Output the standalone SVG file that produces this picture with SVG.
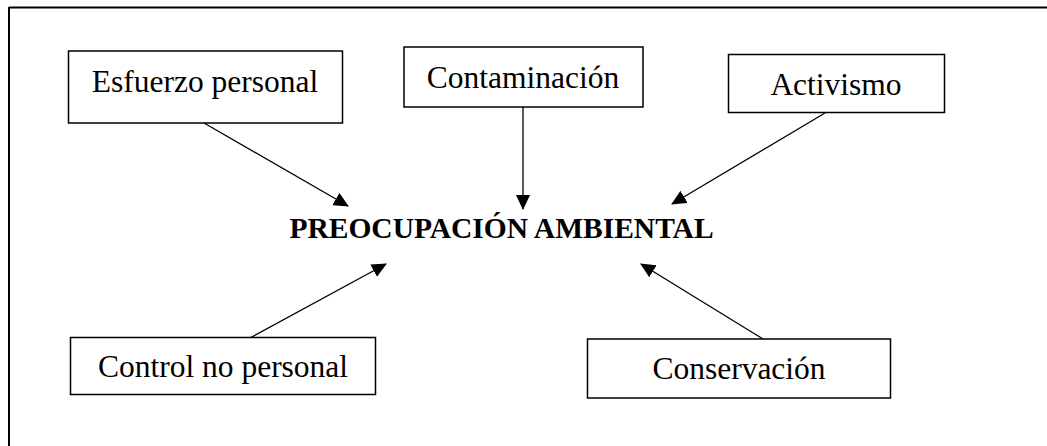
<svg xmlns="http://www.w3.org/2000/svg" width="1047" height="446" viewBox="0 0 1047 446">
<defs>
<marker id="ah" markerWidth="15" markerHeight="14" refX="14" refY="7" orient="auto" markerUnits="userSpaceOnUse">
<path d="M0,0 L15,7 L0,14 Z" fill="#000"/>
</marker>
<style>
.box{fill:#fff;stroke:#000;stroke-width:1.5}
.lbl{font-family:"Liberation Serif","Times New Roman",serif;font-size:31.5px;fill:#000;text-anchor:middle}
.ttl{font-family:"Liberation Serif","Times New Roman",serif;font-size:29.5px;font-weight:bold;fill:#000;text-anchor:middle}
.con{stroke:#000;stroke-width:1.3;fill:none;marker-end:url(#ah)}
</style>
</defs>
<rect width="1047" height="446" fill="#fff"/>
<g id="frame">
<line x1="9" y1="7.5" x2="1047" y2="7.5" stroke="#000" stroke-width="2"/>
<line x1="9" y1="7" x2="9" y2="446" stroke="#000" stroke-width="2"/>
</g>
<g id="connectors">
<line class="con" x1="204" y1="123" x2="348" y2="206"/>
<line class="con" x1="523" y1="101" x2="523" y2="209"/>
<line class="con" x1="825" y1="113" x2="672" y2="204"/>
<line class="con" x1="248" y1="339" x2="386" y2="264"/>
<line class="con" x1="763" y1="339" x2="641" y2="264"/>
</g>
<g id="n-esfuerzo">
<rect class="box" x="68.5" y="51" width="274" height="72"/>
<text class="lbl" x="205" y="92">Esfuerzo personal</text>
</g>
<g id="n-contaminacion">
<rect class="box" x="404" y="47" width="239" height="60"/>
<text class="lbl" x="523" y="88">Contaminación</text>
</g>
<g id="n-activismo">
<rect class="box" x="728.5" y="54.5" width="216" height="58"/>
<text class="lbl" x="836" y="95">Activismo</text>
</g>
<g id="n-control">
<rect class="box" x="70.5" y="337.5" width="305" height="57"/>
<text class="lbl" x="223" y="377">Control no personal</text>
</g>
<g id="n-conservacion">
<rect class="box" x="587.5" y="339" width="303" height="59"/>
<text class="lbl" x="739" y="379">Conservación</text>
</g>
<g id="n-central">
<text class="ttl" x="501.5" y="238">PREOCUPACIÓN AMBIENTAL</text>
</g>
</svg>
